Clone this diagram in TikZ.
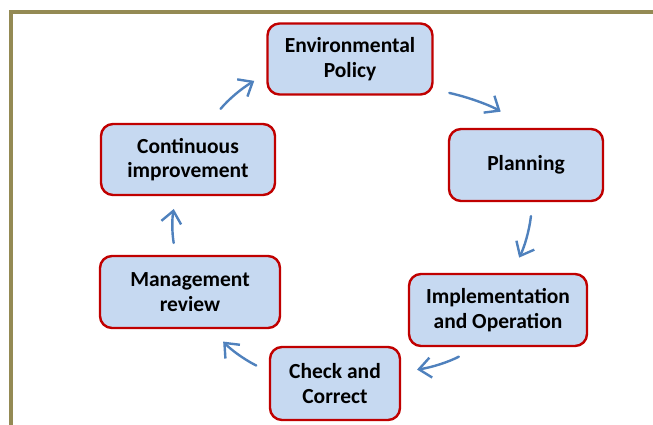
\documentclass[tikz,border=0pt]{standalone}
\usepackage{fontspec}
\setmainfont{Carlito}
\usepackage{tikz}
\usetikzlibrary{arrows.meta}
\definecolor{boxblue}{RGB}{198,217,241}
\definecolor{boxred}{RGB}{192,0,0}
\definecolor{flowblue}{RGB}{79,129,189}
\definecolor{frameolive}{RGB}{148,138,84}

\begin{document}
\begin{tikzpicture}[x=1pt,y=-1pt,->,>={Straight Barb[length=12pt,width=20pt]},
                    line width=2.4pt,line cap=round]
  \tikzstyle{stage}=[draw=boxred,fill=boxblue,line width=2.4pt,rounded corners=12pt,
                     text=black,font=\bfseries\fontsize{21.5}{24.5}\selectfont,
                     align=center,inner sep=0pt]
  \tikzstyle{flow}=[flowblue,bend left=10]

  \useasboundingbox (0,0) rectangle (653,425);
  \draw[-,frameolive,line width=3.5pt,line cap=butt] (11,425) -- (11,12) -- (653,12);

  \node[stage,minimum width=165pt,minimum height=71pt] (policy)  at (350,59)    {Environmental\\Policy};
  \node[stage,minimum width=154pt,minimum height=72pt] (plan)    at (526,165)   {Planning};
  \node[stage,minimum width=178pt,minimum height=72pt] (impl)    at (498,310)   {Implementation\\and Operation};
  \node[stage,minimum width=130pt,minimum height=73pt] (check)   at (335,383.5) {Check and\\Correct};
  \node[stage,minimum width=180pt,minimum height=72pt] (review)  at (190,292)   {Management\\review};
  \node[stage,minimum width=174pt,minimum height=71pt] (improve) at (188,159.5) {Continuous\\improvement};

  \path (policy.-20)  edge [flow,shorten <=16pt,shorten >=30pt] (plan.north)
        (plan.-80)    edge [flow,shorten <=14pt,shorten >=17pt] (impl.70)
        (impl.-120)   edge [flow,shorten <=20pt,shorten >=16pt] (check.10)
        (check.170)   edge [flow,shorten <=14pt,shorten >=17pt] (review.-60)
        (review.111)  edge [flow,shorten <=12pt,shorten >=13pt] (improve.-108)
        (improve.60)  edge [flow,shorten <=18pt,shorten >=14pt] (policy.190);
\end{tikzpicture}
\end{document}
